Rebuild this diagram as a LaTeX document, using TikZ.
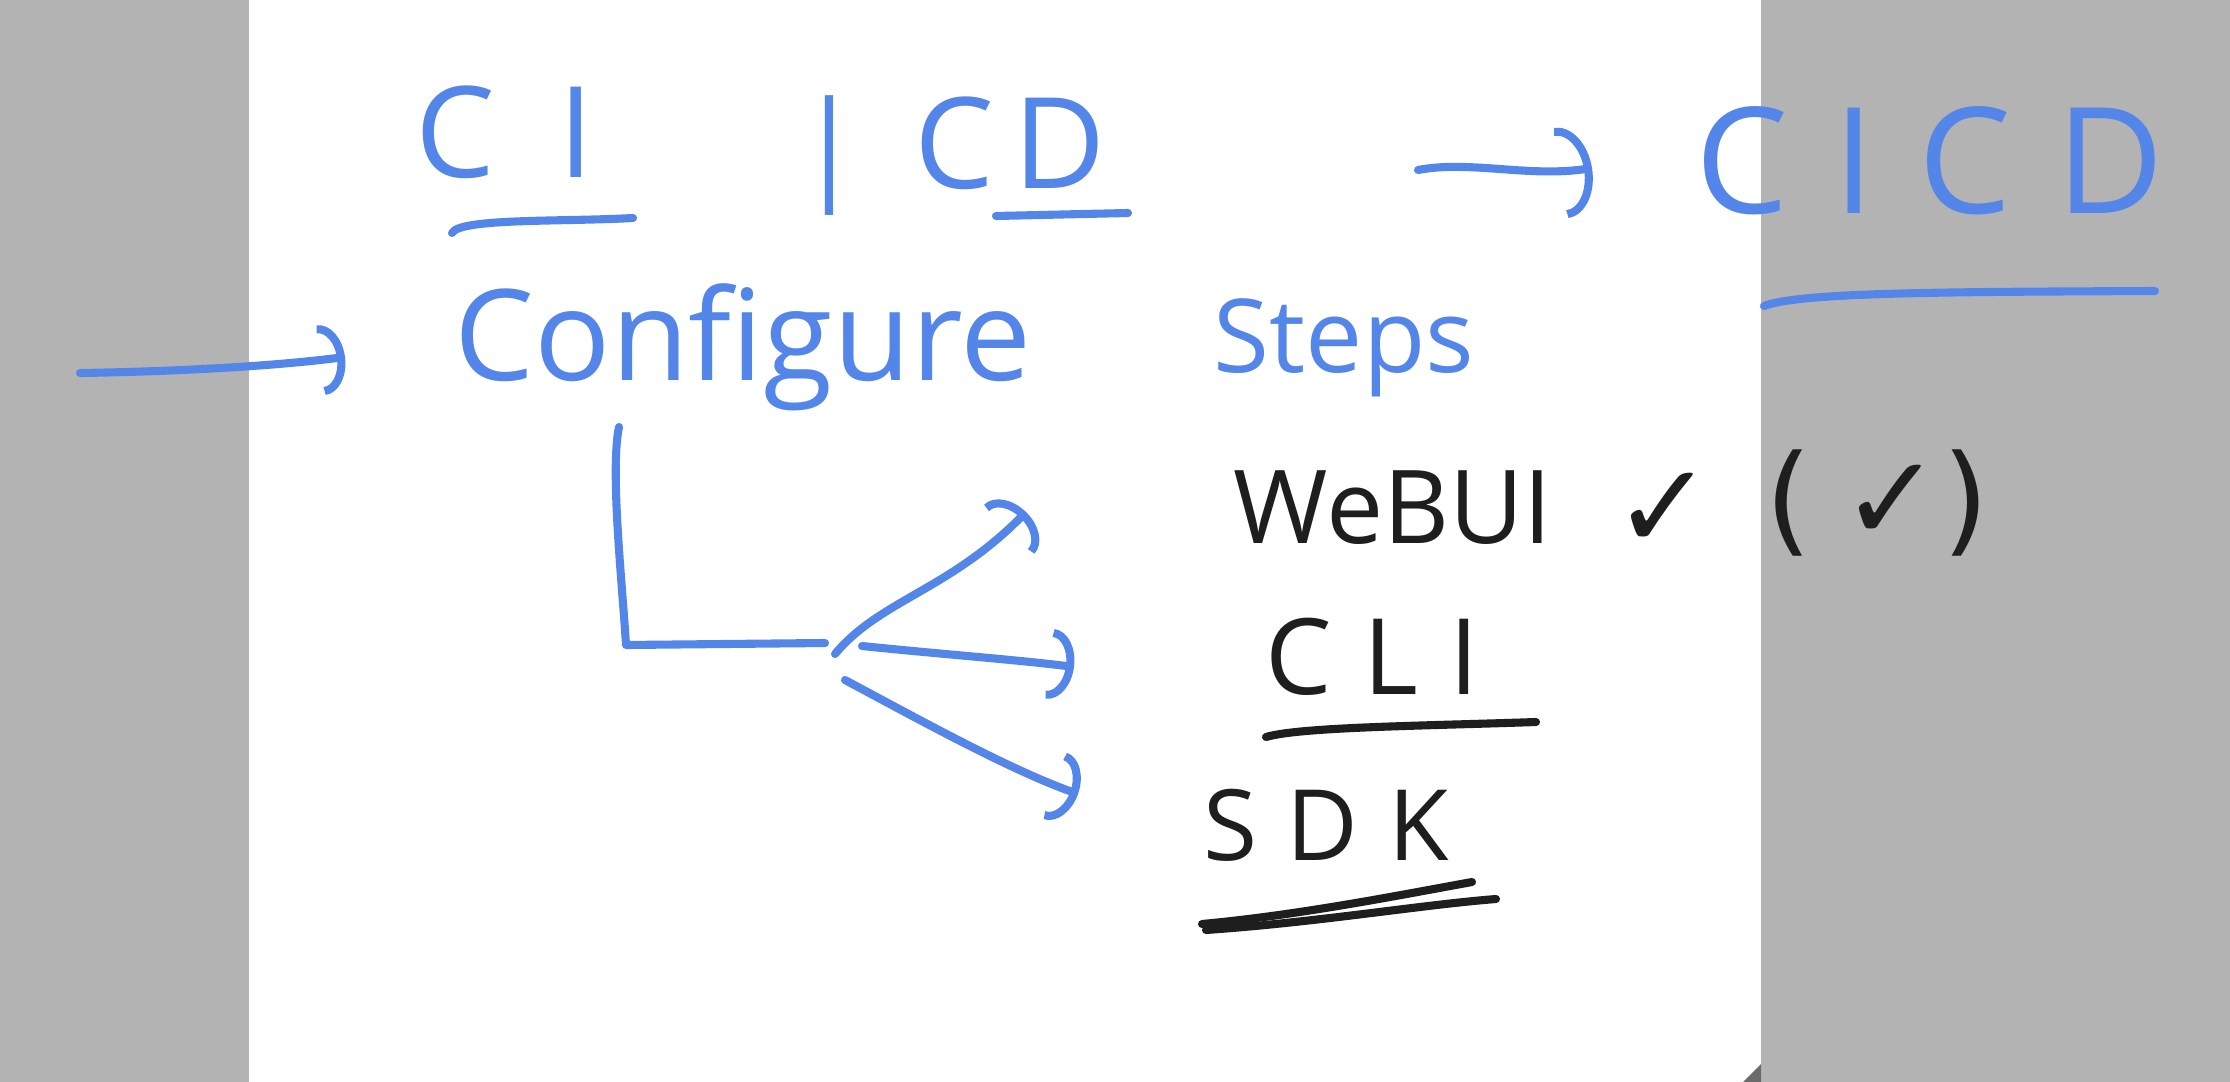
\documentclass[tikz,border=0pt]{standalone}
\usepackage{fontspec}
\setmainfont{Open Sans}
\newfontfamily\symfont{DejaVu Sans}
\usetikzlibrary{arrows.meta,calc}
\definecolor{pen}{RGB}{84,134,234}
\definecolor{ink}{RGB}{30,30,30}
\definecolor{desk}{RGB}{179,179,179}
\begin{document}
\begin{tikzpicture}[x=0.01cm,y=-0.01cm,
  btxt/.style={text=pen, inner sep=0, anchor=base},
  ktxt/.style={text=ink, inner sep=0, anchor=base},
  bstroke/.style={draw=pen, line width=2.3pt, line cap=round, line join=round},
  kstroke/.style={draw=ink, line width=2.3pt, line cap=round, line join=round},
  hookarrow/.style={-{Arc Barb[length=7pt,width=20pt]}}]
\useasboundingbox (0,0) rectangle (2230,1082);
\fill[desk] (0,0) rectangle (2230,1082);
\fill[white] (249,0) rectangle (1761,1082);
\fill[desk!60!black] (1761,1064) -- (1761,1082) -- (1743,1082) -- cycle;
% headings
\node[btxt, font=\fontsize{36}{40}\selectfont] (ci) at (505,178) {C\hspace{0.5em}I};
\node[btxt, font=\fontsize{34}{40}\selectfont] (bar) at (829,186) {|};
\node[btxt, font=\fontsize{36}{40}\selectfont] (cd) at (1010,189) {C\hspace{0.15em}D};
\node[btxt, font=\fontsize{42}{48}\selectfont] (cicd) at (1930,213) {C\hspace{0.3em}I\hspace{0.3em}C\hspace{0.3em}D};
\node[btxt, font=\fontsize{36}{40}\selectfont] (conf) at (743,380) {Configure};
\node[btxt, font=\fontsize{29}{34}\selectfont] (steps) at (1344,373) {Steps};
\node[ktxt, font=\fontsize{29}{34}\selectfont] (webui) at (1393,543) {WeBUI};
\node[ktxt, font=\fontsize{34}{40}\symfont] (tick) at (1664,548) {✓};
\node[ktxt, font=\fontsize{34}{40}\symfont] (tickb) at (1877,540) {(\hspace{0.25em}✓)};
\node[ktxt, font=\fontsize{30}{34}\selectfont] (cli) at (1372,694) {C\hspace{0.3em}L\hspace{0.3em}I};
\node[ktxt, font=\fontsize{28}{34}\selectfont] (sdk) at (1326,860) {S\hspace{0.3em}D\hspace{0.3em}K};
% underlines
\draw[bstroke] (452,233) .. controls (460,218) and (560,222) .. (633,218);
\draw[bstroke] (996,216) -- (1128,213);
\draw[bstroke] (1764,306) .. controls (1800,292) and (1950,292) .. (2155,291);
\draw[kstroke] (1266,737) .. controls (1300,727) and (1420,726) .. (1536,722);
\draw[kstroke] (1202,924) .. controls (1300,915) and (1400,895) .. (1472,882);
\draw[kstroke] (1206,930) .. controls (1320,922) and (1420,905) .. (1496,899);
% arrows
\coordinate (inL) at (80,373);
\coordinate (inE) at (345,357);
\draw[bstroke, hookarrow] (inL) .. controls (150,372) and (260,368) .. (inE);
\coordinate (ccA) at (1418,170);
\coordinate (ccB) at (1592,168);
\draw[bstroke, -{Arc Barb[length=9pt,width=26pt]}] (ccA) .. controls (1470,160) and (1530,178) .. (ccB);
% bracket and fan-out
\coordinate (br0) at (619,427);
\coordinate (br1) at (626,645);
\coordinate (hub) at (825,643);
\draw[bstroke] (br0) .. controls (610,470) and (622,580) .. (br1) -- (hub);
\coordinate (eW) at (1026,512);
\coordinate (eC) at (1074,667);
\coordinate (eS) at (1078,794);
\draw[bstroke, hookarrow] (835,654) .. controls (880,600) and (950,590) .. (eW);
\draw[bstroke, hookarrow] (862,646) .. controls (950,655) and (1020,660) .. (eC);
\draw[bstroke, hookarrow] (845,680) .. controls (920,720) and (1010,770) .. (eS);
\end{tikzpicture}
\end{document}
